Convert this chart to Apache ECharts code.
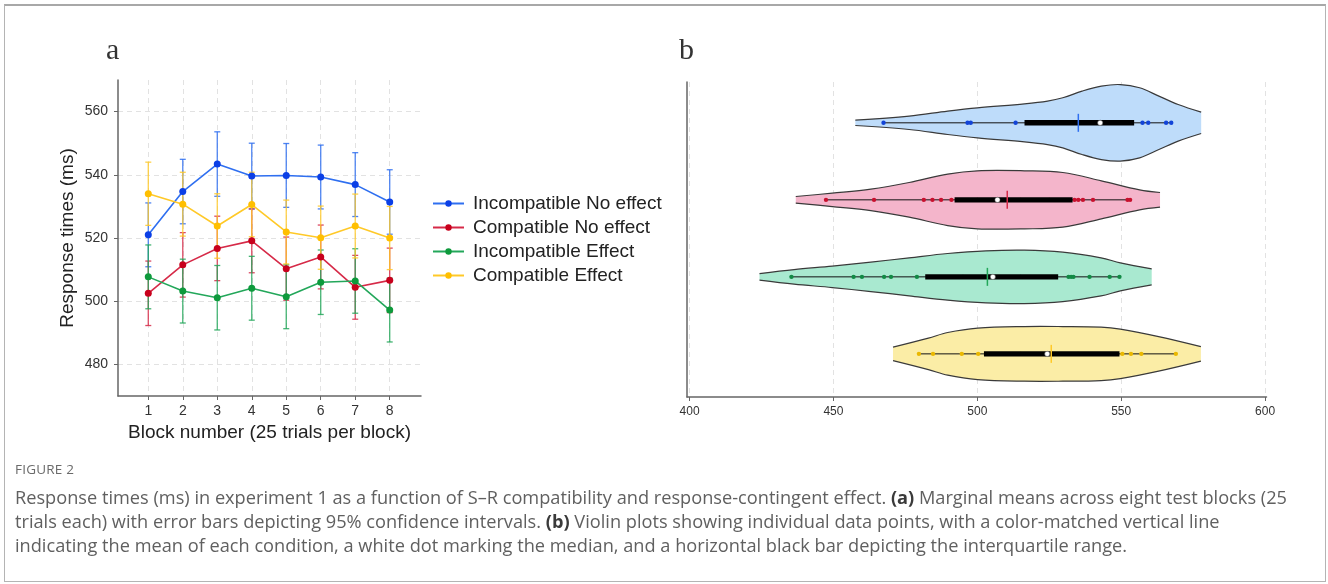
<!DOCTYPE html>
<html><head><meta charset="utf-8">
<script src="https://cdn.jsdelivr.net/npm/echarts@6/dist/echarts.min.js"></script>
<style>
html,body{margin:0;padding:0;background:#fff;}
#frame{position:absolute;left:4px;top:4px;width:1322px;height:578px;border:1px solid #b4b4b4;border-top:2px solid #a8a8a8;box-sizing:border-box;}
#chart{position:absolute;left:0;top:0;width:1328px;height:584px;}
.cap{position:absolute;left:15px;font-family:"Open Sans","Noto Sans",sans-serif;color:#606060;white-space:nowrap;}
.fig{top:460px;font-size:13.5px;letter-spacing:0.2px;color:#6a6a6a;}
.line{font-size:18.2px;line-height:24px;height:24px;}
.cap b{color:#3a3a3a;}
</style></head>
<body>
<div id="chart"></div>
<div id="frame"></div>
<div class="cap fig">FIGURE 2</div>
<div class="cap line" style="top:485px">Response times (ms) in experiment 1 as a function of S–R compatibility and response-contingent effect. <b>(a)</b> Marginal means across eight test blocks (25</div>
<div class="cap line" style="top:509px">trials each) with error bars depicting 95% confidence intervals. <b>(b)</b> Violin plots showing individual data points, with a color-matched vertical line</div>
<div class="cap line" style="top:533px">indicating the mean of each condition, a white dot marking the median, and a horizontal black bar depicting the interquartile range.</div>
<script>
// ---------- Panel a data ----------
const blocks = [1, 2, 3, 4, 5, 6, 7, 8];
const seriesNames = ['Incompatible No effect', 'Compatible No effect', 'Incompatible Effect', 'Compatible Effect'];
const incNoEffMean = [521.0, 534.7, 543.4, 539.6, 539.8, 539.3, 536.9, 531.4];
const incNoEffCI   = [10.1, 10.2, 10.2, 10.4, 10.1, 10.1, 10.1, 10.2];
const compNoEffMean = [502.5, 511.5, 516.7, 519.1, 510.3, 514.0, 504.4, 506.6];
const compNoEffCI   = [10.2, 10.2, 10.2, 10.1, 10.0, 10.1, 10.1, 10.2];
const incEffMean = [507.7, 503.2, 501.1, 504.1, 501.4, 506.0, 506.4, 497.2];
const incEffCI   = [10.1, 10.1, 10.2, 10.1, 10.1, 10.2, 10.2, 10.1];
const compEffMean = [534.0, 530.7, 523.8, 530.6, 521.9, 520.1, 523.8, 520.0];
const compEffCI   = [10.0, 10.1, 10.2, 10.2, 10.1, 10.0, 10.1, 10.0];
const yTicksA = [480, 500, 520, 540, 560];

// ---------- Panel b data ----------
const xTicksB = [400, 450, 500, 550, 600];
// density profiles (x value, half-width in row units)
const incNoEffViolinX = [457.6, 476.3, 489.7, 500, 516.4, 524.4, 529.7, 536.4, 543.1, 549.7, 556.4, 563.1, 569.8, 577.8];
const incNoEffViolinD = [0.035, 0.087, 0.152, 0.195, 0.247, 0.282, 0.325, 0.412, 0.477, 0.497, 0.455, 0.347, 0.238, 0.139];
const compNoEffViolinX = [436.9, 449.6, 463, 476.3, 489.7, 500, 516.4, 529.7, 543.1, 556.4, 563.5];
const compNoEffViolinD = [0.043, 0.087, 0.139, 0.225, 0.334, 0.377, 0.377, 0.355, 0.247, 0.130, 0.095];
const incEffViolinX = [424.3, 436.3, 449.6, 463, 476.3, 489.7, 503, 516.3, 529.7, 543, 549.7, 560.6];
const incEffViolinD = [0.043, 0.095, 0.139, 0.191, 0.247, 0.303, 0.338, 0.347, 0.321, 0.247, 0.182, 0.104];
const compEffViolinX = [470.7, 483, 489.7, 500.1, 516.3, 529.7, 543, 549.7, 563, 577.7];
const compEffViolinD = [0.087, 0.204, 0.277, 0.334, 0.355, 0.355, 0.347, 0.321, 0.225, 0.095];
// individual points, quartiles, median, mean
const incNoEffPoints = [467.4, 496.6, 497.7, 513.3, 520.5, 530.0, 548.0, 557.4, 559.4, 565.6, 567.4];
const compNoEffPoints = [447.4, 464.1, 481.4, 484.4, 487.4, 491.0, 500.0, 515.0, 525.0, 533.8, 535.1, 536.7, 540.2, 552.2, 553.1];
const incEffPoints = [435.4, 457.0, 459.9, 467.6, 470.0, 479.0, 495.0, 515.0, 531.7, 532.6, 533.4, 539.0, 546.0, 549.4];
const compEffPoints = [479.7, 484.6, 494.6, 500.3, 515.0, 535.0, 550.4, 553.4, 557.0, 569.0];
const quartile1 = [516.4, 492.1, 481.9, 502.3];
const quartile3 = [554.5, 533.1, 528.1, 549.4];
const medians = [542.7, 507.0, 505.4, 524.3];
const means = [535.1, 510.4, 503.5, 525.7];
const violinRows = [4, 3, 2, 1];

// ---------- styles ----------
const lineColors = ['#2f6ff0', '#d62a48', '#23a75a', '#ffc928'];
const markColors = ['#0b3fe6', '#c8001c', '#0e9a3c', '#ffbf00'];
const fillColors = ['#bedcfa', '#f4b5cb', '#a9e9d0', '#fbeda6'];
const dotColors = ['#1244d8', '#c8102e', '#128a45', '#eab800'];
const FONT = '"Liberation Sans", Arial, sans-serif';

const meansA = [incNoEffMean, compNoEffMean, incEffMean, compEffMean];
const cisA = [incNoEffCI, compNoEffCI, incEffCI, compEffCI];
const vX = [incNoEffViolinX, compNoEffViolinX, incEffViolinX, compEffViolinX];
const vD = [incNoEffViolinD, compNoEffViolinD, incEffViolinD, compEffViolinD];
const vP = [incNoEffPoints, compNoEffPoints, incEffPoints, compEffPoints];

const chart = echarts.init(document.getElementById('chart'), null, {renderer: 'canvas'});

const series = [];
// error bars
meansA.forEach((m, s) => {
  series.push({
    type: 'custom', name: seriesNames[s] + ' CI', xAxisIndex: 0, yAxisIndex: 0, z: 2,
    data: blocks.map((b, i) => [b, m[i] - cisA[s][i], m[i] + cisA[s][i]]),
    renderItem: (params, api) => {
      const lo = api.coord([api.value(0), api.value(1)]);
      const hi = api.coord([api.value(0), api.value(2)]);
      const w = 3;
      const st = {stroke: lineColors[s], lineWidth: 1.3, opacity: 0.85};
      return {type: 'group', children: [
        {type: 'line', shape: {x1: lo[0], y1: lo[1], x2: hi[0], y2: hi[1]}, style: st},
        {type: 'line', shape: {x1: lo[0] - w, y1: lo[1], x2: lo[0] + w, y2: lo[1]}, style: st},
        {type: 'line', shape: {x1: hi[0] - w, y1: hi[1], x2: hi[0] + w, y2: hi[1]}, style: st}
      ]};
    },
    silent: true
  });
});
// mean lines
meansA.forEach((m, s) => {
  series.push({
    type: 'line', name: seriesNames[s], xAxisIndex: 0, yAxisIndex: 0, z: 3,
    data: blocks.map((b, i) => [b, m[i]]),
    symbol: 'circle', symbolSize: 7,
    lineStyle: {color: lineColors[s], width: 1.6},
    itemStyle: {color: markColors[s]},
    animation: false
  });
});
// violins
violinRows.forEach((row, s) => {
  series.push({
    type: 'custom', name: 'violin' + s, xAxisIndex: 1, yAxisIndex: 1, z: 2,
    data: [[means[s], row]],
    renderItem: (params, api) => {
      const top = [], bot = [];
      vX[s].forEach((x, i) => {
        top.push(api.coord([x, row + vD[s][i]]));
        bot.push(api.coord([x, row - vD[s][i]]));
      });
      // duplicate end points so the cut ends stay straight and sharp
      const n = top.length;
      const botR = bot.slice().reverse();
      const poly = [top[0]].concat(top, [top[n - 1]], [botR[0]], botR, [botR[n - 1]]);
      const pts = vP[s];
      const pmin = Math.min.apply(null, pts), pmax = Math.max.apply(null, pts);
      const a = api.coord([pmin, row]), b = api.coord([pmax, row]);
      const q1 = api.coord([quartile1[s], row]), q3 = api.coord([quartile3[s], row]);
      const md = api.coord([medians[s], row]), mn = api.coord([means[s], row]);
      const children = [
        {type: 'polygon', shape: {points: poly, smooth: 0.35}, style: {fill: fillColors[s]}},
        {type: 'polyline', shape: {points: top, smooth: 0.35}, style: {stroke: '#3a3a3a', lineWidth: 1.2, fill: null}},
        {type: 'polyline', shape: {points: bot, smooth: 0.35}, style: {stroke: '#3a3a3a', lineWidth: 1.2, fill: null}},
        {type: 'line', shape: {x1: a[0], y1: a[1], x2: b[0], y2: b[1]}, style: {stroke: '#111', lineWidth: 1}}
      ];
      pts.forEach(p => {
        const c = api.coord([p, row]);
        children.push({type: 'circle', shape: {cx: c[0], cy: c[1], r: 2.2}, style: {fill: dotColors[s]}});
      });
      children.push({type: 'rect', shape: {x: q1[0], y: q1[1] - 2.7, width: q3[0] - q1[0], height: 5.4}, style: {fill: '#000'}});
      children.push({type: 'line', shape: {x1: mn[0], y1: mn[1] - 9, x2: mn[0], y2: mn[1] + 9}, style: {stroke: lineColors[s], lineWidth: 1.5}});
      children.push({type: 'circle', shape: {cx: md[0], cy: md[1], r: 2.6}, style: {fill: '#fff', stroke: '#444', lineWidth: 0.5}});
      return {type: 'group', children};
    },
    silent: true
  });
});

const axisLineStyle = {color: '#666', width: 1.5};
const gridLine = {show: true, lineStyle: {color: '#e2e2e2', type: [5, 4], width: 1}};

chart.setOption({
  animation: false,
  textStyle: {fontFamily: FONT},
  grid: [
    {left: 118, top: 80, width: 303, height: 316},
    {left: 687, top: 82, width: 579.5, height: 315}
  ],
  xAxis: [
    {gridIndex: 0, type: 'value', min: 0.122, max: 8.907,
     axisLine: {show: true, lineStyle: axisLineStyle},
     axisTick: {show: true, length: 4, customValues: blocks, lineStyle: {color: '#666'}},
     axisLabel: {customValues: blocks, fontSize: 14, color: '#333', margin: 8, fontFamily: FONT},
     splitLine: gridLine,
     name: 'Block number (25 trials per block)', nameLocation: 'middle', nameGap: 27,
     nameTextStyle: {fontSize: 19, color: '#222', fontFamily: FONT}},
    {gridIndex: 1, type: 'value', min: 399.1, max: 600.5,
     axisLine: {show: true, lineStyle: axisLineStyle},
     axisTick: {show: true, length: 4, customValues: xTicksB, lineStyle: {color: '#666'}},
     axisLabel: {customValues: xTicksB, fontSize: 12, color: '#333', margin: 9, fontFamily: FONT},
     splitLine: gridLine}
  ],
  yAxis: [
    {gridIndex: 0, type: 'value', min: 470, max: 570,
     axisLine: {show: true, lineStyle: axisLineStyle},
     axisTick: {show: true, length: 4, customValues: yTicksA, lineStyle: {color: '#666'}},
     axisLabel: {customValues: yTicksA, fontSize: 14, color: '#333', margin: 10, fontFamily: FONT},
     splitLine: gridLine,
     name: 'Response times (ms)', nameLocation: 'middle', nameGap: 41,
     nameTextStyle: {fontSize: 19, color: '#222', fontFamily: FONT}},
    {gridIndex: 1, type: 'value', min: 0.44, max: 4.53,
     axisLine: {show: true, lineStyle: axisLineStyle},
     axisTick: {show: false}, axisLabel: {show: false}, splitLine: {show: false}}
  ],
  legend: {
    data: seriesNames, orient: 'vertical', left: 432, top: 194, padding: 0,
    itemWidth: 31, itemHeight: 8, itemGap: 5,
    textStyle: {fontSize: 19, color: '#222', fontFamily: FONT, lineHeight: 19, padding: [0, 0, 0, 4]}
  },
  graphic: [
    {type: 'text', left: 106, top: 36, style: {text: 'a', fontSize: 30, fontFamily: 'Liberation Serif', fill: '#333'}},
    {type: 'text', left: 679, top: 36, style: {text: 'b', fontSize: 30, fontFamily: 'Liberation Serif', fill: '#333'}}
  ],
  series
});
</script>
</body></html>
